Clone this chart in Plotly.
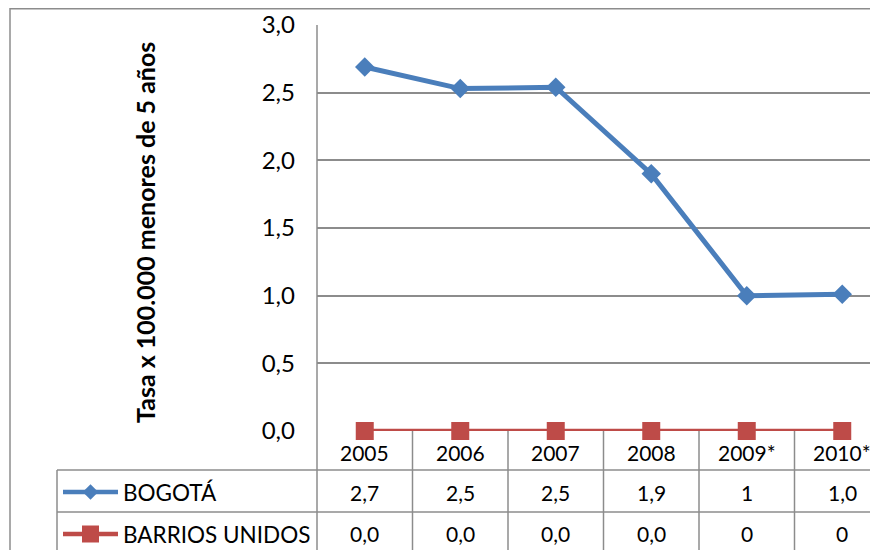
import plotly.graph_objects as go

years = ["2005", "2006", "2007", "2008", "2009*", "2010*"]
bogota = [2.69, 2.53, 2.54, 1.90, 1.0, 1.01]
barrios = [0.0, 0.0, 0.0, 0.0, 0.0, 0.0]
bogota_tbl = ["2,7", "2,5", "2,5", "1,9", "1", "1,0"]
barrios_tbl = ["0,0", "0,0", "0,0", "0,0", "0", "0"]

# the page body has an 8px margin, so the canvas is shifted by that much
OFF = 8
W, H = 878 - OFF, 550 - OFF
BLUE = "#4A7EBB"
RED = "#BE4B48"
GRID = "#8C8C8C"
FONT = "Lato"


def px(v):
    return v - OFF


# plot area in window pixels
PX0, PY0, PY1 = 317, 25, 431
ROWS = [431, 470, 512, 550]

fig = go.Figure()
xi = list(range(len(years)))

fig.add_trace(go.Scatter(x=xi, y=bogota, mode="lines+markers", name="BOGOTÁ",
                         line=dict(color=BLUE, width=5),
                         marker=dict(symbol="diamond", size=15, color=BLUE),
                         cliponaxis=False))
fig.add_trace(go.Scatter(x=xi, y=barrios, mode="lines+markers", name="BARRIOS UNIDOS",
                         line=dict(color=RED, width=4.5),
                         marker=dict(symbol="square", size=18, color=RED),
                         cliponaxis=False))

# legend keys inside the table (pixel canvas axes)
keys = [("BOGOTÁ", BLUE, "diamond", 12, 492), ("BARRIOS UNIDOS", RED, "square", 17, 534)]
for name, col, sym, sz, yy in keys:
    fig.add_trace(go.Scatter(x=[px(63), px(118)], y=[px(yy), px(yy)], mode="lines",
                             xaxis="x2", yaxis="y2",
                             line=dict(color=col, width=4.5), showlegend=False, hoverinfo="skip"))
    fig.add_trace(go.Scatter(x=[px(90.5)], y=[px(yy)], mode="markers", xaxis="x2", yaxis="y2",
                             marker=dict(symbol=sym, size=sz, color=col),
                             showlegend=False, hoverinfo="skip", cliponaxis=False))
    fig.add_annotation(x=px(121), y=px(yy), xref="x2", yref="y2", text=name, showarrow=False,
                       xanchor="left", yanchor="middle",
                       font=dict(size=22.5, color="black", family=FONT))

# table text
tf = dict(size=21, color="black", family=FONT)
for i, yr in enumerate(years):
    fig.add_annotation(x=i, y=px(452), xref="x", yref="y2", text=yr, showarrow=False, font=tf)
    fig.add_annotation(x=i, y=px(492), xref="x", yref="y2", text=bogota_tbl[i],
                       showarrow=False, font=tf)
    fig.add_annotation(x=i, y=px(533), xref="x", yref="y2", text=barrios_tbl[i],
                       showarrow=False, font=tf)

# table grid lines
line = dict(color=GRID, width=1.5)
shapes = []
for yy in ROWS[1:3]:
    shapes.append(dict(type="line", xref="x2", yref="y2", x0=px(57), x1=W,
                       y0=px(yy), y1=px(yy), line=line))
shapes.append(dict(type="line", xref="x2", yref="y2", x0=px(57), x1=px(57),
                   y0=px(ROWS[1]), y1=H, line=line))
shapes.append(dict(type="line", xref="x2", yref="y2", x0=px(PX0), x1=px(PX0),
                   y0=px(PY0), y1=H, line=line))
for i in range(len(years) - 1):
    shapes.append(dict(type="line", xref="x", yref="y2", x0=i + 0.5, x1=i + 0.5,
                       y0=px(ROWS[0]), y1=H, line=line))
# outer chart border
shapes.append(dict(type="line", xref="x2", yref="y2", x0=px(10), x1=W, y0=0.75, y1=0.75, line=line))
shapes.append(dict(type="line", xref="x2", yref="y2", x0=px(10), x1=px(10), y0=0, y1=H, line=line))

fig.add_annotation(x=px(145), y=px(233), xref="x2", yref="y2",
                   text="<b>Tasa x 100.000 menores de 5 años</b>",
                   textangle=-90, showarrow=False, font=dict(size=25, color="black", family=FONT))

col_w = 95.5
fig.update_layout(
    width=W, height=H,
    margin=dict(l=0, r=0, t=0, b=0, autoexpand=False),
    paper_bgcolor="white", plot_bgcolor="rgba(0,0,0,0)",
    separators=",.",
    showlegend=False,
    shapes=shapes,
    font=dict(family=FONT, size=20, color="black"),
    xaxis=dict(domain=[px(PX0) / W, 1], range=[-0.5, (878 - PX0) / col_w - 0.5],
               showgrid=False, zeroline=False, showticklabels=False, showline=False),
    yaxis=dict(domain=[(H - px(PY1)) / H, (H - px(PY0)) / H], range=[0, 3], dtick=0.5,
               tickformat=".1f", showgrid=True, gridcolor=GRID, gridwidth=1.5,
               zeroline=False, showline=False, ticks="", ticklabelstandoff=21,
               tickfont=dict(size=24, family=FONT, color="black")),
    xaxis2=dict(domain=[0, 1], range=[0, W], visible=False, anchor="y2"),
    yaxis2=dict(domain=[0, 1], range=[H, 0], visible=False, anchor="x2"),
)

fig.write_html("out.html")
